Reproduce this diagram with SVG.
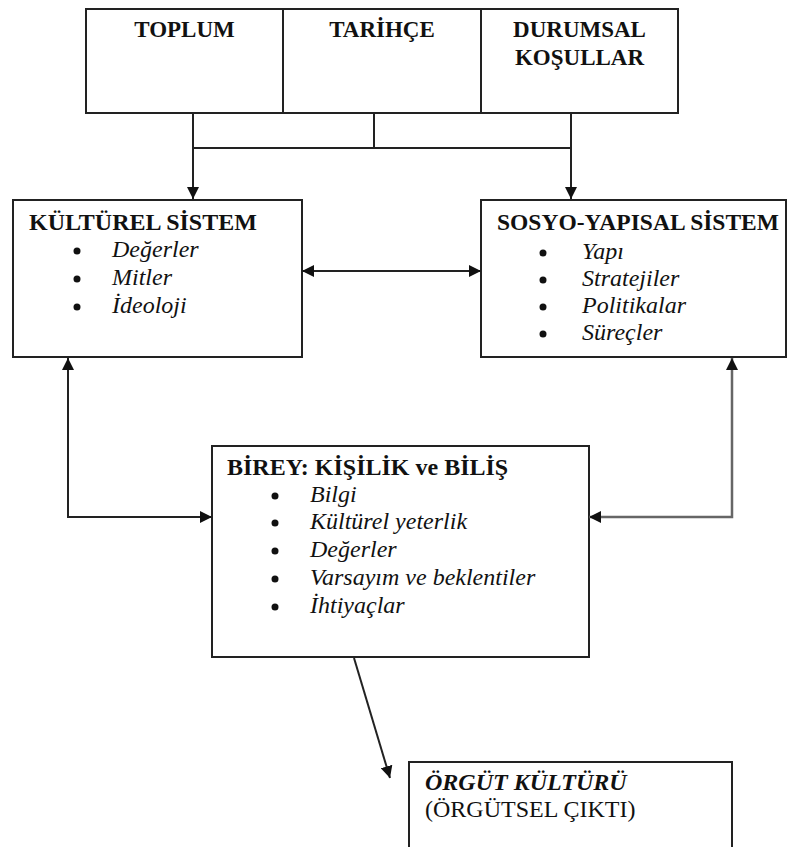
<svg xmlns="http://www.w3.org/2000/svg" width="793" height="847" viewBox="0 0 793 847">
  <style>
    .box { fill: #fff; stroke: #222; stroke-width: 2; }
    .t { font-family: "Liberation Serif", "Times New Roman", "DejaVu Serif", serif; font-size: 24px; fill: #111; }
    .s23 { font-size: 23px; }
    .b { font-weight: bold; }
    .i { font-style: italic; }
    .c { text-anchor: middle; }
    .conn { fill: none; stroke: #222; stroke-width: 2; }
    .conn2 { fill: none; stroke: #666; stroke-width: 2.5; }
    .dot { fill: #111; }
  </style>
  <defs>
    <marker id="ah" viewBox="0 0 12 12" refX="12" refY="6" markerWidth="12" markerHeight="12" markerUnits="userSpaceOnUse" orient="auto-start-reverse">
      <path d="M0,0 L12,6 L0,12 z" fill="#111"/>
    </marker>
  </defs>
  <rect width="793" height="847" fill="#fff"/>

  <g id="top-box">
    <rect class="box" x="86" y="9" width="592" height="104"/>
    <line x1="283" y1="9" x2="283" y2="113" stroke="#222" stroke-width="2"/>
    <line x1="481" y1="9" x2="481" y2="113" stroke="#222" stroke-width="2"/>
    <text class="t s23 b c" x="184.5" y="37">TOPLUM</text>
    <text class="t s23 b c" x="382" y="37">TARİHÇE</text>
    <text class="t s23 b c" x="579.5" y="37">DURUMSAL</text>
    <text class="t s23 b c" x="579.5" y="65">KOŞULLAR</text>
  </g>

  <g id="kulturel-sistem">
    <rect class="box" x="13" y="200" width="289" height="157"/>
    <text class="t b" x="29" y="230">KÜLTÜREL SİSTEM</text>
    <circle class="dot" cx="77" cy="251" r="3.5"/>
    <text class="t i" x="112" y="257">Değerler</text>
    <circle class="dot" cx="77" cy="279" r="3.5"/>
    <text class="t i" x="112" y="285">Mitler</text>
    <circle class="dot" cx="77" cy="307" r="3.5"/>
    <text class="t i" x="112" y="313">İdeoloji</text>
  </g>

  <g id="sosyo-yapisal-sistem">
    <rect class="box" x="481" y="200" width="305" height="157"/>
    <text class="t b" x="497" y="230" textLength="282" lengthAdjust="spacingAndGlyphs">SOSYO-YAPISAL SİSTEM</text>
    <circle class="dot" cx="543" cy="253" r="3.5"/>
    <text class="t i" x="582" y="259">Yapı</text>
    <circle class="dot" cx="543" cy="280" r="3.5"/>
    <text class="t i" x="582" y="286">Stratejiler</text>
    <circle class="dot" cx="543" cy="307" r="3.5"/>
    <text class="t i" x="582" y="313">Politikalar</text>
    <circle class="dot" cx="543" cy="334" r="3.5"/>
    <text class="t i" x="582" y="340">Süreçler</text>
  </g>

  <g id="birey">
    <rect class="box" x="212" y="446" width="377" height="211"/>
    <text class="t b" x="227" y="475">BİREY: KİŞİLİK ve BİLİŞ</text>
    <circle class="dot" cx="275" cy="496" r="3.5"/>
    <text class="t i" x="310" y="502">Bilgi</text>
    <circle class="dot" cx="275" cy="523" r="3.5"/>
    <text class="t i" x="310" y="529">Kültürel yeterlik</text>
    <circle class="dot" cx="275" cy="551" r="3.5"/>
    <text class="t i" x="310" y="557">Değerler</text>
    <circle class="dot" cx="275" cy="579" r="3.5"/>
    <text class="t i" x="310" y="585">Varsayım ve beklentiler</text>
    <circle class="dot" cx="275" cy="607" r="3.5"/>
    <text class="t i" x="310" y="613">İhtiyaçlar</text>
  </g>

  <g id="orgut-kulturu">
    <rect class="box" x="409" y="762" width="323" height="100"/>
    <text class="t b i" x="425" y="790">ÖRGÜT KÜLTÜRÜ</text>
    <text class="t" x="425" y="817">(ÖRGÜTSEL ÇIKTI)</text>
  </g>

  <g id="connectors">
    <path class="conn" d="M193,113 V199" marker-end="url(#ah)"/>
    <path class="conn" d="M374,113 V148"/>
    <path class="conn" d="M193,148 H571"/>
    <path class="conn" d="M571,113 V199" marker-end="url(#ah)"/>
    <path class="conn" d="M302,271 H481" marker-start="url(#ah)" marker-end="url(#ah)"/>
    <path class="conn" d="M212,517 H68 V358" marker-start="url(#ah)" marker-end="url(#ah)"/>
    <path class="conn2" d="M589,517 H732 V358" marker-start="url(#ah)" marker-end="url(#ah)"/>
    <path class="conn" d="M354,658 L390,778" marker-end="url(#ah)"/>
  </g>
</svg>
